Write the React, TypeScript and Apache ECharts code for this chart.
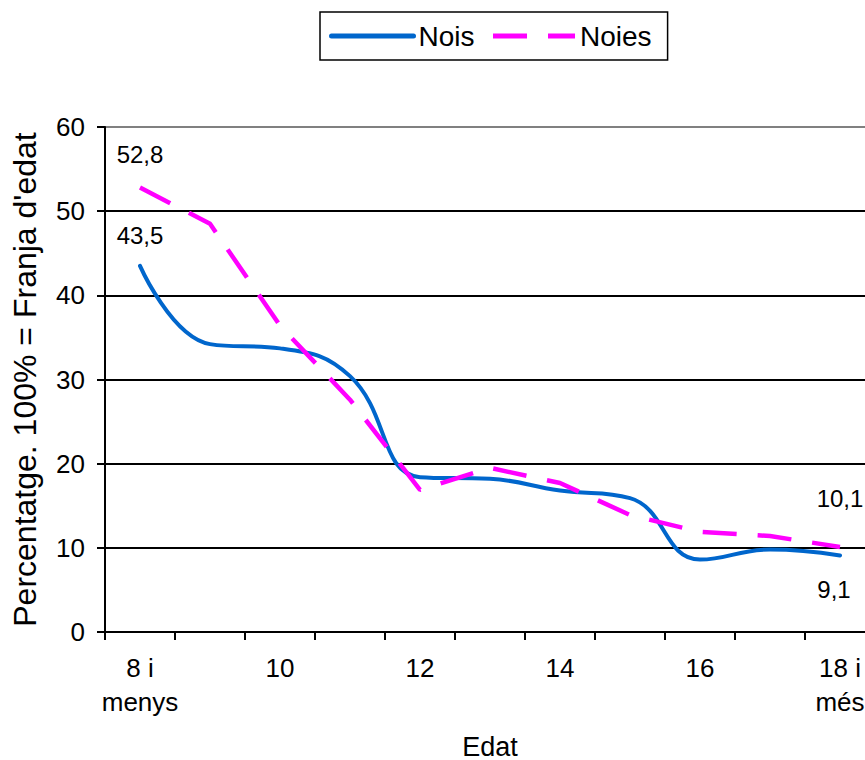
import React, { useEffect, useRef } from "react";
import * as echarts from "echarts";

const categories = ["8 i\nmenys", "9", "10", "11", "12", "13", "14", "15", "16", "17", "18 i\nmés"];
const nois = [43.5, 34.2, 33.7, 30.4, 18.4, 18.2, 16.8, 15.9, 8.6, 9.8, 9.1];
const noies = [52.8, 48.5, 36.4, 27.6, 16.9, 19.5, 17.7, 13.9, 11.9, 11.4, 10.1];
const seriesNames = ["Nois", "Noies"];
const yMin = 0;
const yMax = 60;
const yStep = 10;

const FONT = "'Liberation Sans', Arial, sans-serif";

const fmt = (v: number) => String(v).replace(".", ",");

export default function App() {
  const ref = useRef<HTMLDivElement>(null);
  useEffect(() => {
    if (!ref.current) return;
    const chart = echarts.init(ref.current, undefined, { renderer: "svg" });
    const labelBase = {
      show: true,
      fontFamily: FONT,
      fontSize: 24,
      color: "#000",
      formatter: (p: any) => fmt(p.value),
    };
    const noLabel = { show: false };
    const noisData = nois.map((v, i) => {
      if (i === 0) return { value: v, label: { ...labelBase, position: "top", distance: 18 } };
      if (i === nois.length - 1)
        return { value: v, label: { ...labelBase, position: "bottom", distance: 22, offset: [-6, 0] } };
      return { value: v, label: noLabel };
    });
    const noiesData = noies.map((v, i) => {
      if (i === 0) return { value: v, label: { ...labelBase, position: "top", distance: 21 } };
      if (i === noies.length - 1)
        return { value: v, label: { ...labelBase, position: "top", distance: 36 } };
      return { value: v, label: noLabel };
    });
    chart.setOption({
      animation: false,
      backgroundColor: "#fff",
      textStyle: { fontFamily: FONT },
      legend: {
        data: seriesNames,
        left: 320,
        top: 12,
        orient: "horizontal",
        borderColor: "#000",
        borderWidth: 1.5,
        borderRadius: 0,
        padding: [10, 16, 10, 9],
        itemWidth: 82,
        itemHeight: 14,
        itemGap: 16,
        itemStyle: { color: "rgba(0,0,0,0)", borderWidth: 0, opacity: 0 },
        lineStyle: { width: 5 },
        textStyle: { fontFamily: FONT, fontSize: 28, color: "#000", padding: [0, 0, 0, 0] },
      },
      grid: { left: 105, right: 0, top: 127, bottom: 128, containLabel: false, outerBoundsMode: "none" },
      xAxis: {
        type: "category",
        data: categories,
        boundaryGap: true,
        name: "Edat",
        nameLocation: "middle",
        nameGap: 101,
        nameTextStyle: { fontFamily: FONT, fontSize: 27, color: "#000", verticalAlign: "top" },
        axisLine: { show: true, lineStyle: { color: "#000", width: 2 } },
        axisTick: { show: true, interval: 0, length: 8, lineStyle: { color: "#000", width: 2 } },
        axisLabel: {
          interval: 1,
          fontFamily: FONT,
          fontSize: 26,
          lineHeight: 34,
          color: "#000",
          margin: 19,
        },
        splitLine: { show: false },
      },
      yAxis: {
        type: "value",
        min: yMin,
        max: yMax,
        interval: yStep,
        name: "Percentatge. 100% = Franja d'edat",
        nameLocation: "middle",
        nameGap: 64,
        nameRotate: 90,
        nameTextStyle: { fontFamily: FONT, fontSize: 32, color: "#000" },
        axisLine: { show: true, lineStyle: { color: "#000", width: 2 } },
        axisTick: { show: true, length: 8, lineStyle: { color: "#000", width: 2 } },
        axisLabel: { fontFamily: FONT, fontSize: 26, color: "#000", margin: 20, formatter: (v: number) => fmt(v) },
        splitLine: {
          show: true,
          lineStyle: {
            color: ["#000", "#000", "#000", "#000", "#000", "#000", "#808080"],
            width: 2,
          },
        },
      },
      series: [
        {
          name: seriesNames[0],
          type: "line",
          data: noisData,
          smooth: 0.45,
          symbol: "circle",
          symbolSize: 1,
          showSymbol: true,
          lineStyle: { color: "#0066CC", width: 4, cap: "round" },
          itemStyle: { color: "rgba(0,0,0,0)", borderWidth: 0 },
        },
        {
          name: seriesNames[1],
          type: "line",
          data: noiesData,
          smooth: false,
          symbol: "circle",
          symbolSize: 1,
          showSymbol: true,
          lineStyle: { color: "#FF00FF", width: 4.5, type: [34, 21] },
          itemStyle: { color: "rgba(0,0,0,0)", borderWidth: 0 },
        },
      ],
    });
    return () => chart.dispose();
  }, []);
  return (
    <div style={{ position: "fixed", left: 0, top: 0, width: 865, height: 760, overflow: "hidden", background: "#fff" }}>
      <div ref={ref} style={{ width: 875, height: 760 }} />
    </div>
  );
}
